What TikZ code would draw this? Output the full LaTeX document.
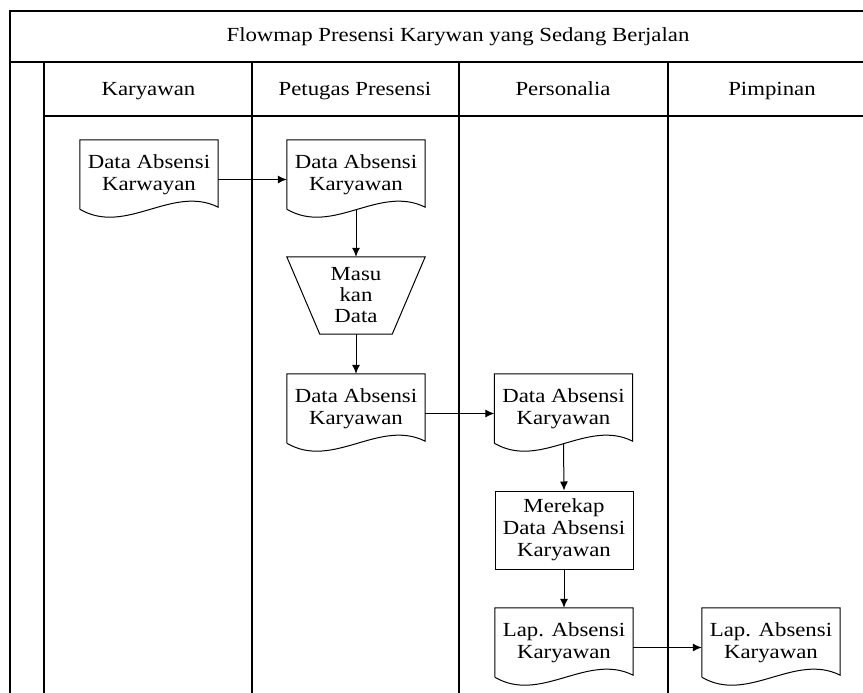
\documentclass[tikz,border=0pt]{standalone}
\usepackage{fontspec}
\setmainfont[FakeStretch=1.14]{Liberation Serif}
\usetikzlibrary{arrows.meta,calc}
\tikzset{
  frame/.style={line width=1.7pt,black},
  shp/.style={line width=1pt,black},
  docnode/.style={minimum width=138pt,minimum height=69pt,inner sep=0pt,align=center,
     font=\fontsize{20}{22}\selectfont},
  boxnode/.style={minimum width=138pt,minimum height=78pt,inner sep=0pt,align=center,draw,line width=1pt,
     font=\fontsize{20}{22}\selectfont},
  trapnode/.style={minimum width=138pt,minimum height=77pt,inner sep=0pt,align=center,
     font=\fontsize{20}{21}\selectfont},
  lbl/.style={font=\fontsize{20}{22}\selectfont,inner sep=0pt,anchor=base},
  arr/.style={line width=1pt,-{Latex[length=9pt,width=8pt]}}
}
\newcommand\docoutline[1]{%
  \draw[shp] (#1.south west) -- (#1.north west) -- (#1.north east) -- ($(#1.south east)+(0,-2)$)
    .. controls ($(#1.south east)+(-46,-25)$) and ($(#1.south west)+(46,27)$) .. (#1.south west);}
\begin{document}
\begin{tikzpicture}[x=1pt,y=-1pt]
\useasboundingbox (0,0) rectangle (863,693);
% frame
\draw[frame] (863,11) -- (10,11) -- (10,693);
\draw[frame] (10,62) -- (863,62);
\draw[frame] (44,62) -- (44,693);
\draw[frame] (44,116) -- (863,116);
\draw[frame] (252,62) -- (252,693);
\draw[frame] (459,62) -- (459,693);
\draw[frame] (668,62) -- (668,693);
% titles
\node[lbl] (title) at (458,42) {Flowmap Presensi Karywan yang Sedang Berjalan};
\node[lbl] (h1) at (148.5,95.5) {Karyawan};
\node[lbl] (h2) at (355,95.5) {Petugas Presensi};
\node[lbl] (h3) at (563,95.5) {Personalia};
\node[lbl] (h4) at (772,95.5) {Pimpinan};
% shapes
\node[docnode] (d1) at (149,174.5) {Data Absensi\\Karwayan};
\docoutline{d1}
\node[docnode] (d2) at (356,174.5) {Data Absensi\\Karyawan};
\docoutline{d2}
\node[trapnode] (t) at (356,295.5) {Masu\\kan\\Data};
\draw[shp] (t.north west) -- (t.north east) -- ($(t.south east)+(-33,0)$) -- ($(t.south west)+(33,0)$) -- cycle;
\node[docnode] (d3) at (356,408.5) {Data Absensi\\Karyawan};
\docoutline{d3}
\node[docnode] (d4) at (563.5,408.5) {Data Absensi\\Karyawan};
\docoutline{d4}
\node[boxnode] (r) at (564,530) {Merekap\\Data Absensi\\Karyawan};
\node[docnode] (d5) at (564,642.5) {Lap. Absensi\\Karyawan};
\docoutline{d5}
\node[docnode] (d6) at (771,642.5) {Lap. Absensi\\Karyawan};
\docoutline{d6}
% connectors
\draw[arr] ([yshift=-5pt]d1.east) -- ([yshift=-5pt]d2.west);
\draw[arr] ([yshift=-1pt]d2.south) -- (t.north);
\draw[arr] (t.south) -- (d3.north);
\draw[arr] ([yshift=-5pt]d3.east) -- ([yshift=-5pt]d4.west);
\draw[arr] ([yshift=-1pt]d4.south) -- (r.north);
\draw[arr] (r.south) -- (d5.north);
\draw[arr] ([yshift=-5pt]d5.east) -- ([yshift=-5pt]d6.west);
\end{tikzpicture}
\end{document}
